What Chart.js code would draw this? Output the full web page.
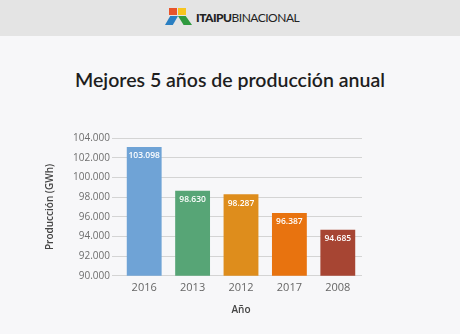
<!DOCTYPE html>
<html>
<head>
<meta charset="utf-8">
<script src="https://cdn.jsdelivr.net/npm/chart.js@4.4.0/dist/chart.umd.min.js"></script>
<style>
  html, body { margin: 0; padding: 0; }
  body { width: 460px; height: 334px; background: #f7f7f9; position: relative; overflow: hidden; font-family: "Open Sans", sans-serif; }
  .header { position: absolute; left: 0; top: 0; width: 460px; height: 36px; background: #e4e4e4; }
  .logo { position: absolute; left: 165px; top: 8px; width: 30px; height: 20px; }
  .logo div { position: absolute; }
  .sq1 { left: 4px; top: 0; width: 8px; height: 7px; background: #e8542a; }
  .sq2 { left: 13px; top: 0; width: 8px; height: 7px; background: #f7c51e; }
  .tri1 { left: 0; top: 8px; width: 13px; height: 9px; background: #2a7fc2; clip-path: polygon(40% 0, 100% 0, 60% 100%, 0 100%); }
  .tri2 { left: 13px; top: 8px; width: 14px; height: 9px; background: #2f9a3f; clip-path: polygon(0 0, 55% 0, 100% 100%, 40% 100%); }
  .logotext { position: absolute; left: 196px; top: 10px; font-size: 12px; color: #222; letter-spacing: -0.5px; font-family: "Lato", sans-serif; }
  .logotext b { font-weight: 900; }
  .title { position: absolute; left: 0; top: 68px; width: 460px; text-align: center; font-size: 19.5px; font-weight: 600; color: #1e1e1e; font-family: "Lato", sans-serif; }
  .chart-box { position: absolute; left: 0; top: 120px; width: 460px; height: 200px; }
</style>
</head>
<body>
<div class="header">
  <div class="logo"><div class="sq1"></div><div class="sq2"></div><div class="tri1"></div><div class="tri2"></div></div>
  <div class="logotext"><b>ITAIPU</b>BINACIONAL</div>
</div>
<div class="title">Mejores 5 años de producción anual</div>
<div class="chart-box"><canvas id="chart"></canvas></div>
<script>
// Chart data
const years = ['2016', '2013', '2012', '2017', '2008'];
const production = [103098, 98630, 98287, 96387, 94685];
const barColors = ['#6fa3d6', '#57a576', '#de8d1c', '#e8730f', '#a74533'];
const yMin = 90000;
const yMax = 104000;
const yStep = 2000;

// 103098 -> "103.098"
function fmt(v) {
    return String(v).replace(/\B(?=(\d{3})+(?!\d))/g, '.');
}

// Write values at the top inside each bar
const barLabels = {
    id: 'barLabels',
    afterDatasetsDraw(chart) {
        const ctx = chart.ctx;
        const meta = chart.getDatasetMeta(0);
        ctx.save();
        ctx.font = '600 8.5px "Open Sans", sans-serif';
        ctx.fillStyle = '#ffffff';
        ctx.textAlign = 'center';
        ctx.textBaseline = 'middle';
        meta.data.forEach((bar, i) => {
            ctx.fillText(fmt(production[i]), bar.x, bar.y + 9);
        });
        ctx.restore();
    }
};

new Chart(document.getElementById('chart'), {
    type: 'bar',
    data: {
        labels: years,
        datasets: [{
            data: production,
            backgroundColor: barColors,
            borderWidth: 0,
            categoryPercentage: 1,
            barPercentage: 0.72
        }]
    },
    options: {
        responsive: true,
        maintainAspectRatio: false,
        animation: false,
        layout: { padding: { left: 40, right: 98, top: 18, bottom: 0 } },
        plugins: {
            legend: { display: false },
            tooltip: { enabled: false }
        },
        scales: {
            x: {
                grid: { display: false, drawTicks: false, tickLength: 0 },
                border: { display: false },
                ticks: { color: '#666', font: { size: 11, family: 'Open Sans' }, padding: 5 },
                title: { display: true, text: 'Año', color: '#444', font: { size: 10, weight: '600', family: 'Open Sans' }, padding: { top: 5, bottom: 4 } }
            },
            y: {
                min: yMin,
                max: yMax,
                afterFit(scale) { scale.width = 80; },
                grid: { color: '#d4d4d4', lineWidth: 1, tickLength: 8, drawTicks: true, tickColor: '#d4d4d4' },
                border: { display: false },
                ticks: {
                    stepSize: yStep,
                    color: '#6e6e6e',
                    padding: 2,
                    font: { size: 10, family: 'Open Sans' },
                    callback: v => fmt(v)
                },
                title: { display: true, text: 'Producción (GWh)', color: '#444', font: { size: 10, weight: '600', family: 'Open Sans' }, padding: { bottom: 4 } }
            }
        }
    },
    plugins: [barLabels]
});
</script>
</body>
</html>
